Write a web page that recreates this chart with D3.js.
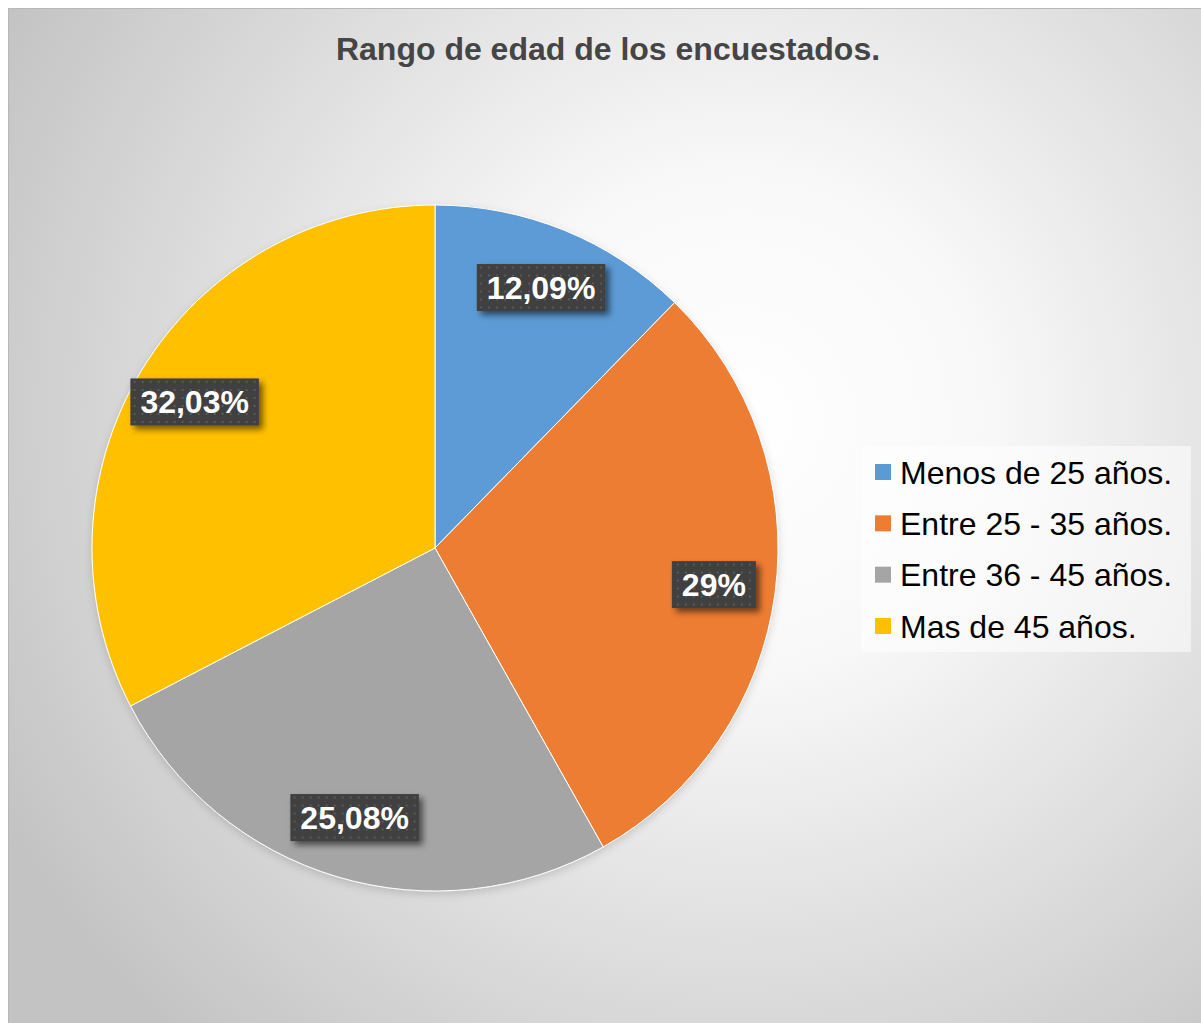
<!DOCTYPE html>
<html>
<head>
<meta charset="utf-8">
<script src="https://cdn.jsdelivr.net/npm/d3@7"></script>
<style>
    body { margin: 0; background: #ffffff; }
    svg { display: block; }
</style>
</head>
<body>
<svg id="chart" width="1201" height="1023"></svg>
<script>
// Chart data
const categories = ["Menos de 25 años.", "Entre 25 - 35 años.", "Entre 36 - 45 años.", "Mas de 45 años."];
const values = [12.09, 29, 25.08, 32.03];
const colors = ["#5B9BD5", "#ED7D31", "#A5A5A5", "#FFC000"];
const title = "Rango de edad de los encuestados.";

drawPie();

function drawPie() {
    let svg = d3.select("#chart");

    // Percent labels use a comma as decimal mark
    let locale = d3.formatLocale({ decimal: ",", thousands: ".", grouping: [3], currency: ["", "€"] });
    let fmt = locale.format(".2~f");

    let defs = svg.append("defs");

    // Background gradient
    let grad = defs.append("radialGradient")
        .attr("id", "bg")
        .attr("gradientUnits", "userSpaceOnUse")
        .attr("cx", 740).attr("cy", 420).attr("r", 840);
    grad.append("stop").attr("offset", "0%").attr("stop-color", "#ffffff");
    grad.append("stop").attr("offset", "30%").attr("stop-color", "#f8f8f8");
    grad.append("stop").attr("offset", "100%").attr("stop-color", "#c3c3c3");

    // Dotted pattern for the label boxes
    let pat = defs.append("pattern")
        .attr("id", "dots")
        .attr("patternUnits", "userSpaceOnUse")
        .attr("width", 8).attr("height", 8);
    pat.append("rect").attr("width", 8).attr("height", 8).attr("fill", "#404040");
    pat.append("rect").attr("x", 3).attr("y", 3).attr("width", 2).attr("height", 2).attr("fill", "#5a5a5a");

    // Shadows
    let sh = defs.append("filter").attr("id", "boxShadow")
        .attr("x", "-20%").attr("y", "-30%").attr("width", "140%").attr("height", "170%");
    sh.append("feDropShadow")
        .attr("dx", 4).attr("dy", 4).attr("stdDeviation", 3)
        .attr("flood-color", "#000").attr("flood-opacity", 0.55);

    let pieSh = defs.append("filter").attr("id", "pieShadow")
        .attr("x", "-10%").attr("y", "-10%").attr("width", "120%").attr("height", "120%");
    pieSh.append("feDropShadow")
        .attr("dx", 0).attr("dy", 3).attr("stdDeviation", 4)
        .attr("flood-color", "#000").attr("flood-opacity", 0.15);

    // Chart area
    svg.append("rect")
        .attr("x", 8.5).attr("y", 8.5)
        .attr("width", 1200).attr("height", 1020)
        .attr("fill", "url(#bg)")
        .attr("stroke", "#b8b8b8");

    // Title
    svg.append("text")
        .attr("x", 608).attr("y", 60)
        .attr("text-anchor", "middle")
        .style("font-family", "'Liberation Sans', Arial, sans-serif")
        .style("font-weight", "bold")
        .style("font-size", "32px")
        .style("fill", "#454545")
        .text(title);

    // Pie geometry
    let cx = 435, cy = 548, radius = 343;

    let pie = d3.pie().sort(null).value(function (d) { return d; });
    let arcs = pie(values);

    let arc = d3.arc().innerRadius(0).outerRadius(radius);
    let labelArc = d3.arc().innerRadius(radius * 0.82).outerRadius(radius * 0.82);

    let g = svg.append("g")
        .attr("transform", "translate(" + cx + "," + cy + ")");

    g.append("g")
        .attr("filter", "url(#pieShadow)")
        .selectAll("path")
        .data(arcs)
        .enter()
        .append("path")
        .attr("d", arc)
        .attr("fill", function (d, i) { return colors[i]; })
        .attr("stroke", "#ffffff")
        .attr("stroke-width", 1);

    // Data labels
    let labels = g.append("g")
        .selectAll("g")
        .data(arcs)
        .enter()
        .append("g")
        .attr("transform", function (d) {
            let c = labelArc.centroid(d);
            return "translate(" + c[0] + "," + c[1] + ")";
        });

    labels.each(function (d) {
        let lg = d3.select(this);
        let box = lg.append("rect").attr("fill", "url(#dots)").attr("filter", "url(#boxShadow)");
        let t = lg.append("text")
            .attr("text-anchor", "middle")
            .attr("dy", "0.36em")
            .style("font-family", "'Liberation Sans', Arial, sans-serif")
            .style("font-weight", "bold")
            .style("font-size", "32px")
            .style("fill", "#ffffff")
            .text(fmt(d.data) + "%");
        let w = t.node().getComputedTextLength() + 20;
        let h = 47;
        box.attr("x", -w / 2).attr("y", -h / 2).attr("width", w).attr("height", h);
    });

    // Legend
    let legend = svg.append("g").attr("transform", "translate(861,446)");
    legend.append("rect")
        .attr("width", 330).attr("height", 206)
        .attr("fill", "#ffffff").attr("fill-opacity", 0.55);

    let rowY = d3.scalePoint().domain(categories).range([26, 180]);

    let item = legend.selectAll("g.item")
        .data(categories)
        .enter()
        .append("g")
        .attr("class", "item")
        .attr("transform", function (d) { return "translate(0," + rowY(d) + ")"; });

    item.append("rect")
        .attr("x", 14).attr("y", -8)
        .attr("width", 16).attr("height", 16)
        .attr("fill", function (d, i) { return colors[i]; });

    item.append("text")
        .attr("x", 39).attr("dy", "0.36em")
        .style("font-family", "'Liberation Sans', Arial, sans-serif")
        .style("font-size", "32px")
        .style("fill", "#000000")
        .text(function (d) { return d; });
}
</script>
</body>
</html>
